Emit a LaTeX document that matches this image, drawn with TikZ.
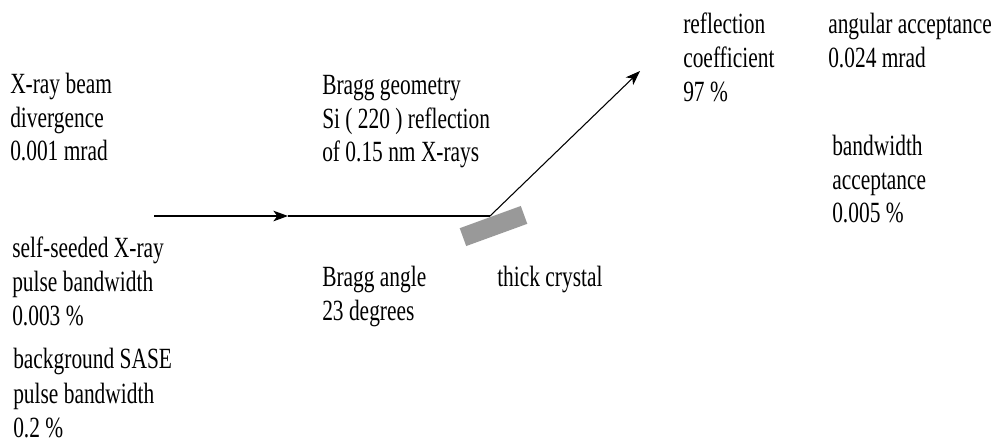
\documentclass[tikz,border=0pt]{standalone}
\usepackage{fontspec}
\setmainfont{Liberation Serif}[FakeStretch=0.73]
\usetikzlibrary{arrows.meta}
\begin{document}
\begin{tikzpicture}[x=0.75pt,y=-0.75pt,
  lbl/.style={anchor=north west, inner sep=0pt, align=left, font=\fontsize{22}{25.2}\selectfont},
  wide/.style={font=\fontsize{22}{26}\selectfont},
  beam/.style={line width=0.8pt, black},
  tip/.style={-{Stealth[length=11pt,width=8pt,inset=3pt]}},
  crystal/.style={fill=black!40, draw=none, minimum width=48.75pt, minimum height=14.25pt, inner sep=0pt}]
\useasboundingbox (0,0) rectangle (998,444);
% crystal
\node[crystal, rotate=20] (cr) at (493.5,226) {};
% beam
\coordinate (b0) at (154,216);
\coordinate (bm) at (288,216);
\coordinate (hit) at (490,216);
\coordinate (out) at (640,71);
\draw[beam, tip] (b0) -- (bm);
\draw[beam] (bm) -- (hit);
\draw[beam, tip] (hit) -- (out);
% labels
\node[lbl] (div) at (10,73) {X-ray beam\\divergence\\0.001 mrad};
\node[lbl] (seed) at (12,237) {self-seeded X-ray\\pulse bandwidth\\0.003 \%};
\node[lbl, wide] (sase) at (13,348) {background SASE\\pulse bandwidth\\0.2 \%};
\node[lbl] (geo) at (322,75) {Bragg geometry\\Si ( 220 ) reflection\\of 0.15 nm X-rays};
\node[lbl] (ang) at (322,266) {Bragg angle\\23 degrees};
\node[lbl] (thick) at (497,266) {thick crystal};
\node[lbl] (refl) at (683,13) {reflection\\coefficient\\97 \%};
\node[lbl] (acc) at (828,13) {angular acceptance\\0.024 mrad};
\node[lbl] (bw) at (832,135) {bandwidth\\acceptance\\0.005 \%};
\end{tikzpicture}
\end{document}
